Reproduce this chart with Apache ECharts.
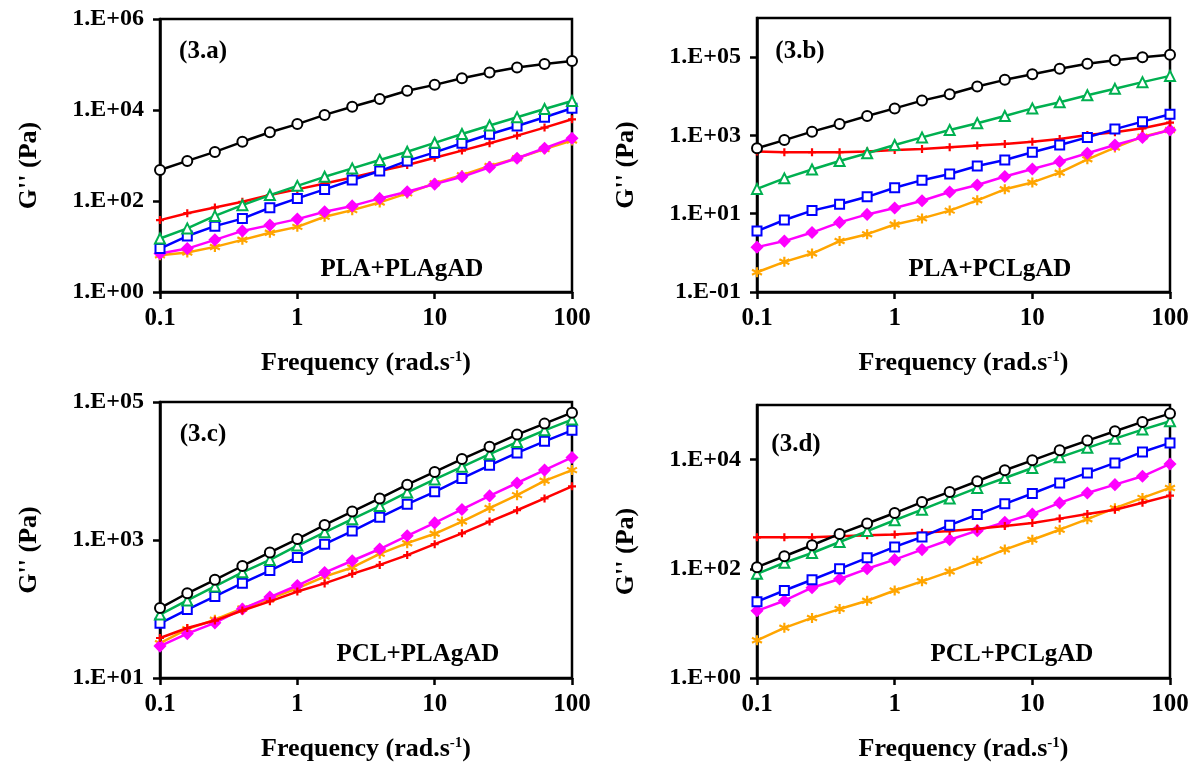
<!DOCTYPE html>
<html>
<head>
<meta charset="utf-8">
<script src="https://cdn.jsdelivr.net/npm/echarts@6/dist/echarts.min.js"></script>
<style>
html,body{margin:0;padding:0;background:#fff;}
#chart{width:1202px;height:770px;}
</style>
</head>
<body>
<div id="chart"></div>
<script>
// ---------- data ----------
const freq = [0.1, 0.158, 0.251, 0.398, 0.631, 1, 1.58, 2.51, 3.98, 6.31, 10, 15.8, 25.1, 39.8, 63.1, 100];

// Panel 3.a  PLA+PLAgAD
const a_black   = [480, 760, 1200, 2000, 3240, 4900, 7800, 11800, 17500, 26500, 35700, 50000, 66600, 86000, 102000, 120000];
const a_green   = [15, 25, 47, 81, 135, 215, 340, 520, 795, 1210, 1900, 2960, 4550, 6940, 10500, 15800];
const a_blue    = [9, 17, 28, 41, 71, 114, 180, 290, 455, 760, 1170, 1860, 2930, 4460, 6940, 10900];
const a_red     = [38, 54, 72, 96, 135, 180, 243, 330, 455, 617, 893, 1280, 1860, 2740, 4100, 6250];
const a_magenta = [7, 9, 14, 22, 29.5, 40, 58, 78, 114, 160, 235, 340, 550, 870, 1440, 2400];
const a_orange  = [6.4, 7.4, 9.8, 14, 20, 27, 45, 63, 93, 147, 245, 370, 590, 870, 1380, 2130];

// Panel 3.b  PLA+PCLgAD
const b_black   = [470, 760, 1250, 1950, 3140, 4900, 7760, 11300, 17800, 26300, 36700, 50300, 67500, 83800, 100000, 115000];
const b_green   = [43, 80, 135, 222, 350, 570, 890, 1380, 2040, 3140, 4900, 7030, 10600, 15500, 23000, 33200];
const b_blue    = [3.6, 6.9, 12, 17.4, 27, 46, 72, 103, 165, 235, 372, 570, 890, 1450, 2250, 3470];
const b_red     = [390, 373, 372, 372, 390, 425, 450, 500, 550, 605, 690, 810, 1020, 1200, 1520, 2130];
const b_magenta = [1.4, 2.0, 3.3, 6.0, 9.6, 14, 21.5, 36, 54, 89, 139, 214, 350, 570, 890, 1380];
const b_orange  = [0.32, 0.59, 0.96, 2.0, 3.0, 5.3, 7.6, 12, 22, 42, 63, 112, 245, 490, 930, 1380];

// Panel 3.c  PCL+PLAgAD
const c_black   = [103, 169, 265, 420, 660, 1030, 1650, 2580, 4000, 6330, 9700, 14900, 22400, 33700, 48600, 70000];
const c_green   = [83, 133, 212, 340, 515, 830, 1290, 2000, 3100, 4900, 7550, 11500, 17500, 26300, 38900, 55600];
const c_blue    = [62, 98, 152, 237, 360, 560, 870, 1350, 2130, 3300, 5000, 7800, 12100, 18300, 26900, 38900];
const c_red     = [38, 53, 68, 95, 129, 179, 235, 323, 435, 605, 870, 1250, 1850, 2700, 4000, 6000];
const c_magenta = [29, 44, 63, 100, 149, 219, 337, 500, 740, 1150, 1770, 2770, 4360, 6700, 10300, 15700];
const c_orange  = [32, 51, 70, 102, 141, 200, 295, 400, 630, 900, 1230, 1850, 2900, 4470, 7200, 10300];

// Panel 3.d  PCL+PCLgAD
const d_black   = [107, 170, 270, 435, 675, 1050, 1670, 2560, 4010, 6380, 9700, 14800, 22300, 33000, 49000, 69600];
const d_green   = [81, 129, 195, 310, 490, 775, 1210, 1930, 3030, 4600, 7030, 11000, 16400, 24200, 35400, 50500];
const d_blue    = [25, 40, 63, 100, 159, 252, 383, 630, 985, 1550, 2390, 3740, 5700, 8690, 13800, 20200];
const d_red     = [377, 377, 377, 395, 410, 424, 455, 490, 540, 605, 690, 830, 1010, 1210, 1620, 2190];
const d_magenta = [17, 26, 45, 65, 100, 147, 225, 340, 500, 710, 1010, 1610, 2450, 3480, 4950, 8330];
const d_orange  = [4.9, 8.3, 12.6, 18.3, 26, 40, 59, 89, 141, 225, 340, 520, 810, 1290, 1990, 3030];

// axis ranges and tick labels
const xTicks = [0.1, 1, 10, 100];
const a_yTicks = [1, 100, 1e4, 1e6];
const b_yTicks = [0.1, 10, 1e3, 1e5];
const c_yTicks = [10, 1e3, 1e5];
const d_yTicks = [1, 100, 1e4];
const yRanges = [[1, 1e6], [0.1, 1e6], [10, 1e5], [1, 1e5]];
const panelTags = ['(3.a)', '(3.b)', '(3.c)', '(3.d)'];
const panelNames = ['PLA+PLAgAD', 'PLA+PCLgAD', 'PCL+PLAgAD', 'PCL+PCLgAD'];

// ---------- styling ----------
const FONT = "'Liberation Serif','Times New Roman',serif";
const styles = [
  {key: 'black',   color: '#000000', symbol: 'emptyCircle',   size: 10},
  {key: 'green',   color: '#00B050', symbol: 'emptyTriangle', size: 10},
  {key: 'blue',    color: '#0000FF', symbol: 'emptyRect',     size: 9},
  {key: 'red',     color: '#FF0000', symbol: 'path://M0,-5L0,5M-5,0L5,0', size: 8},
  {key: 'magenta', color: '#FF00FF', symbol: 'diamond',       size: 10},
  {key: 'orange',  color: '#FFA500', symbol: 'path://M0,-5L0,5M-4.33,-2.5L4.33,2.5M-4.33,2.5L4.33,-2.5', size: 10}
];
const panels = [
  [a_black, a_green, a_blue, a_red, a_magenta, a_orange],
  [b_black, b_green, b_blue, b_red, b_magenta, b_orange],
  [c_black, c_green, c_blue, c_red, c_magenta, c_orange],
  [d_black, d_green, d_blue, d_red, d_magenta, d_orange]
];
const yTickSets = [a_yTicks, b_yTicks, c_yTicks, d_yTicks];

const grids = [
  {left: 160, right: 630, top: 19, bottom: 478},
  {left: 757, right: 32,  top: 18, bottom: 478},
  {left: 160, right: 630, top: 402, bottom: 92},
  {left: 757, right: 32,  top: 405, bottom: 92}
];

function expLabel(v) {
  const e = Math.round(Math.log10(v));
  const s = Math.abs(e) < 10 ? '0' + Math.abs(e) : '' + Math.abs(e);
  return '1.E' + (e < 0 ? '-' : '+') + s;
}

const option = {
  backgroundColor: '#ffffff',
  animation: false,
  grid: grids.map(g => Object.assign({show: true, borderColor: '#000', borderWidth: 2.5, backgroundColor: 'transparent'}, g)),
  xAxis: grids.map((g, i) => ({
    type: 'log', logBase: 10, gridIndex: i, min: 0.1, max: 100,
    name: 'Frequency (rad.s{sup|-1})',
    nameLocation: 'middle', nameGap: 58,
    nameTextStyle: {
      fontFamily: FONT, fontWeight: 'bold', fontSize: 26, color: '#000',
      rich: {sup: {fontFamily: FONT, fontWeight: 'bold', fontSize: 15, verticalAlign: 'top', padding: [0, 0, 12, 0], color: '#000'}}
    },
    axisLine: {show: true, lineStyle: {color: '#000', width: 2.5}},
    axisTick: {show: true, length: 7, lineStyle: {color: '#000', width: 2.5}, customValues: xTicks},
    axisLabel: {fontFamily: FONT, fontWeight: 'bold', fontSize: 25, color: '#000', margin: 14,
      customValues: xTicks, formatter: v => String(+(+v).toPrecision(3))},
    splitLine: {show: false},
    minorTick: {show: false}
  })),
  yAxis: grids.map((g, i) => ({
    type: 'log', logBase: 10, gridIndex: i, min: yRanges[i][0], max: yRanges[i][1],
    name: "G'' (Pa)",
    nameLocation: 'middle', nameGap: 118, nameRotate: 90,
    nameTextStyle: {fontFamily: FONT, fontWeight: 'bold', fontSize: 26, color: '#000', padding: [0, 20, 0, 0]},
    axisLine: {show: true, lineStyle: {color: '#000', width: 2.5}},
    axisTick: {show: true, length: 7, lineStyle: {color: '#000', width: 2.5}, customValues: yTickSets[i]},
    axisLabel: {fontFamily: FONT, fontWeight: 'bold', fontSize: 24, color: '#000', margin: 16,
      customValues: yTickSets[i], formatter: v => expLabel(v)},
    splitLine: {show: false}
  })),
  series: [],
  graphic: []
};

panels.forEach((sets, p) => {
  sets.forEach((vals, k) => {
    const st = styles[k];
    option.series.push({
      type: 'line',
      name: panelNames[p] + ' ' + st.key,
      xAxisIndex: p, yAxisIndex: p,
      data: freq.map((f, j) => [f, vals[j]]),
      symbol: st.symbol,
      symbolSize: st.size,
      showSymbol: true,
      lineStyle: {color: st.color, width: 2.5},
      itemStyle: {color: st.color, borderColor: st.color, borderWidth: 2.2},
      z: 10 - k
    });
  });
});

const tagPos = [[203, 52], [800, 52], [203, 435], [796, 445]];
const namePos = [[402, 270], [990, 270], [418, 655], [1012, 655]];
tagPos.forEach((pos, i) => {
  option.graphic.push({
    type: 'text', x: pos[0], y: pos[1], z: 100,
    style: {text: panelTags[i], font: 'bold 25px ' + FONT, fill: '#000', textAlign: 'center', textVerticalAlign: 'middle'}
  });
});
namePos.forEach((pos, i) => {
  option.graphic.push({
    type: 'text', x: pos[0], y: pos[1], z: 100,
    style: {text: panelNames[i], font: 'bold 25px ' + FONT, fill: '#000', textAlign: 'center', textVerticalAlign: 'middle'}
  });
});

const chart = echarts.init(document.getElementById('chart'), null, {renderer: 'canvas'});
chart.setOption(option);
</script>
</body>
</html>
